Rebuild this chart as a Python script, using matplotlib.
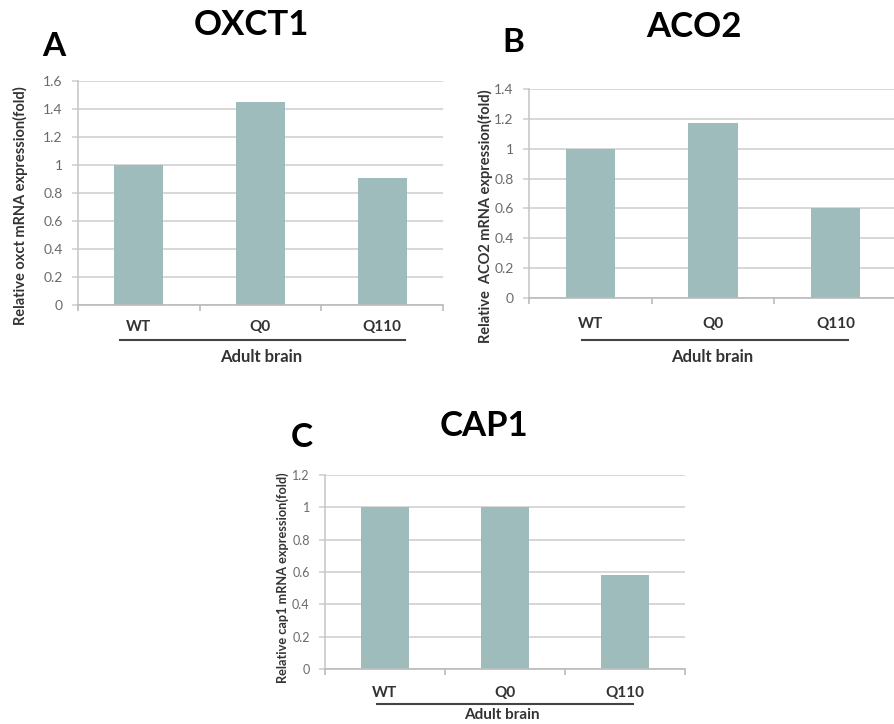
import matplotlib
matplotlib.use("Agg")
import matplotlib.pyplot as plt
from matplotlib.lines import Line2D

W, H = 895, 724

groups = ["WT", "Q0", "Q110"]
oxct1 = [1.0, 1.45, 0.91]
aco2 = [1.0, 1.17, 0.60]
cap1 = [1.0, 1.0, 0.58]

bar_color = "#9dbcbb"
grid_color = "#d4d4d4"
tick_color = "#6a6a6a"

plt.rcParams['font.family'] = ['Lato', 'DejaVu Sans']

fig = plt.figure(figsize=(W / 100, H / 100), dpi=100)


def fx(x):
    return x / W


def fy(y):
    return 1 - y / H


def panel(left, right, top, bottom, vals, ymax, lab_pad, tick_size):
    ax = fig.add_axes([fx(left), fy(bottom), fx(right - left), (bottom - top) / H])
    x = range(len(vals))
    ax.bar(x, vals, width=0.4, color=bar_color, zorder=2)
    ax.set_xlim(-0.5, 2.5)
    ax.set_ylim(0, ymax)
    ticks = [round(i * 0.2, 1) for i in range(int(round(ymax / 0.2)) + 1)]
    ax.set_yticks(ticks)
    ax.set_yticklabels(["0" if t == 0 else ("1" if t == 1 else str(t)) for t in ticks],
                       fontsize=tick_size, color=tick_color)
    ax.yaxis.grid(True, color=grid_color, lw=1.3, zorder=0)
    ax.tick_params(axis='y', length=4, color=grid_color, width=1.3, pad=7)
    ax.set_xticks(list(x))
    ax.set_xticklabels(groups, fontsize=11, fontweight='bold', color="#333333")
    ax.tick_params(axis='x', length=0, pad=lab_pad)
    ax.set_xticks([-0.5, 0.5, 1.5, 2.5], minor=True)
    ax.tick_params(axis='x', which='minor', length=4, color="#bbbbbb", width=1.2)
    for s in ['top', 'right']:
        ax.spines[s].set_visible(False)
    ax.spines['left'].set_color("#c8c8c8")
    ax.spines['bottom'].set_color("#bbbbbb")
    ax.spines['left'].set_linewidth(1.2)
    ax.spines['bottom'].set_linewidth(1.2)
    ax.set_axisbelow(True)
    return ax


# panel A
panel(78, 443, 81, 305, oxct1, 1.6, 11, 10)
fig.text(fx(20), fy(206), "Relative oxct mRNA expression(fold)", rotation=90,
         ha='center', va='center', fontsize=10.5, fontweight='bold', color="#333333")
fig.text(fx(251), fy(25), "OXCT1", ha='center', va='center', fontsize=25, fontweight='bold')
fig.text(fx(54), fy(46), "A", ha='center', va='center', fontsize=24, fontweight='bold')
fig.add_artist(Line2D([fx(120), fx(405)], [fy(340), fy(340)], color="#444444", lw=1.5))
fig.text(fx(261), fy(357), "Adult brain", ha='center', va='center', fontsize=12,
         fontweight='bold', color="#333333")

# panel B
panel(529, 897, 89, 298, aco2, 1.4, 14, 10)
fig.text(fx(485), fy(216), "Relative  ACO2 mRNA expression(fold)", rotation=90,
         ha='center', va='center', fontsize=10.5, fontweight='bold', color="#333333")
fig.text(fx(694), fy(27), "ACO2", ha='center', va='center', fontsize=25, fontweight='bold')
fig.text(fx(513), fy(42), "B", ha='center', va='center', fontsize=24, fontweight='bold')
fig.add_artist(Line2D([fx(582), fx(848)], [fy(340), fy(340)], color="#444444", lw=1.5))
fig.text(fx(712), fy(357), "Adult brain", ha='center', va='center', fontsize=12,
         fontweight='bold', color="#333333")

# panel C
panel(325, 685, 475, 669, cap1, 1.2, 12, 9)
fig.text(fx(283), fy(578), "Relative cap1 mRNA expression(fold)", rotation=90,
         ha='center', va='center', fontsize=9.2, fontweight='bold', color="#333333")
fig.text(fx(484), fy(426), "CAP1", ha='center', va='center', fontsize=25, fontweight='bold')
fig.text(fx(302), fy(438), "C", ha='center', va='center', fontsize=24, fontweight='bold')
fig.add_artist(Line2D([fx(377), fx(633)], [fy(704), fy(704)], color="#444444", lw=1.5))
fig.text(fx(502), fy(715), "Adult brain", ha='center', va='center', fontsize=11,
         fontweight='bold', color="#333333")

fig.savefig("out.png", dpi=100)
